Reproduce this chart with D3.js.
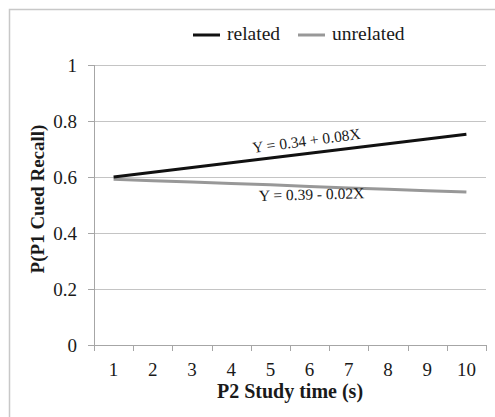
<!DOCTYPE html>
<html>
<head>
<meta charset="utf-8">
<script src="https://cdn.jsdelivr.net/npm/d3@7"></script>
<style>
  body { margin: 0; background: #fff; }
  text { font-family: "Liberation Serif", "Times New Roman", serif; fill: #1a1a1a; }
  .axis path, .axis line { stroke: #a6a6a6; }
  .axis text { font-size: 19px; font-family: "Liberation Serif", serif; fill: #1a1a1a; }
</style>
</head>
<body>
<div id="chart"></div>
<script>
// study times (categories)
var studyTimes = ["1", "2", "3", "4", "5", "6", "7", "8", "9", "10"];
var relatedVals = [0.600, 0.617, 0.634, 0.651, 0.668, 0.685, 0.702, 0.719, 0.736, 0.753];
var unrelatedVals = [0.592, 0.587, 0.582, 0.577, 0.572, 0.566, 0.561, 0.556, 0.551, 0.546];
var yTicks = [0, 0.2, 0.4, 0.6, 0.8, 1];
var seriesNames = ["related", "unrelated"];
var seriesColors = ["#111111", "#989898"];

var totalWidth = 495, totalHeight = 417;
var margin = {top: 65, right: 9, bottom: 72, left: 94},
    width = totalWidth - margin.left - margin.right,
    height = totalHeight - margin.top - margin.bottom;

var root = d3.select("#chart").append("svg")
    .attr("width", totalWidth)
    .attr("height", totalHeight);

// outer frame (only left/top visible)
root.append("rect")
    .attr("x", 9.5).attr("y", 9.5)
    .attr("width", 520).attr("height", 440)
    .attr("fill", "none")
    .attr("stroke", "#c8c8c8")
    .attr("stroke-width", 1.5);

var svg = root.append("g")
    .attr("transform", "translate(" + margin.left + "," + margin.top + ")");

var xScale = d3.scaleBand().domain(studyTimes).range([0, width]);
var yScale = d3.scaleLinear().domain([0, 1]).range([height, 0]);

// gridlines
svg.selectAll("line.grid")
    .data(yTicks.slice(1))
    .enter().append("line")
    .attr("class", "grid")
    .attr("x1", 0).attr("x2", width)
    .attr("y1", function(d) { return Math.round(yScale(d)) + 0.5; })
    .attr("y2", function(d) { return Math.round(yScale(d)) + 0.5; })
    .attr("stroke", "#c4c4c4")
    .attr("stroke-width", 1);

// y axis
var yAxis = d3.axisLeft(yScale).tickValues(yTicks).tickSize(6).tickPadding(11)
    .tickFormat(function(d) { return d; });
svg.append("g")
    .attr("class", "y axis")
    .call(yAxis)
    .call(function(g) { g.select(".domain").attr("d", "M0.5,0V" + height); });

// x axis with ticks between categories
var xAxis = d3.axisBottom(xScale).tickSize(0).tickPadding(18);
var xg = svg.append("g")
    .attr("class", "x axis")
    .attr("transform", "translate(0," + height + ")")
    .call(xAxis);
xg.select(".domain").attr("d", "M0,0.5H" + width);
xg.selectAll("line.sep")
    .data(d3.range(studyTimes.length + 1))
    .enter().append("line")
    .attr("class", "sep")
    .attr("x1", function(i) { return Math.round(i * xScale.step()) + 0.5; })
    .attr("x2", function(i) { return Math.round(i * xScale.step()) + 0.5; })
    .attr("y1", 0).attr("y2", 6)
    .attr("stroke", "#a6a6a6");

// lines
var line = d3.line()
    .x(function(d, i) { return xScale(studyTimes[i]) + xScale.bandwidth() / 2; })
    .y(function(d) { return yScale(d); });

[unrelatedVals, relatedVals].forEach(function(vals, k) {
  svg.append("path")
      .datum(vals)
      .attr("d", line)
      .attr("fill", "none")
      .attr("stroke", k === 0 ? seriesColors[1] : seriesColors[0])
      .attr("stroke-width", 3);
});

// regression equations
svg.append("text")
    .attr("transform", "translate(" + (253 - margin.left) + "," + (153 - margin.top) + ") rotate(-7.5)")
    .style("font-size", "15.5px")
    .text("Y = 0.34 + 0.08X");
svg.append("text")
    .attr("transform", "translate(" + (259 - margin.left) + "," + (201 - margin.top) + ") rotate(-1.5)")
    .style("font-size", "15.5px")
    .text("Y = 0.39 - 0.02X");

// axis titles
svg.append("text")
    .attr("transform", "translate(" + (44 - margin.left) + "," + (height / 2 - 6) + ") rotate(-90)")
    .attr("text-anchor", "middle")
    .style("font-size", "19px")
    .style("font-weight", "bold")
    .text("P(P1 Cued Recall)");
svg.append("text")
    .attr("x", width / 2)
    .attr("y", height + 53)
    .attr("text-anchor", "middle")
    .style("font-size", "20px")
    .style("font-weight", "bold")
    .text("P2 Study time (s)");

// legend
var legendX = [193, 298];
var legend = root.append("g").attr("class", "legend");
seriesNames.forEach(function(name, i) {
  legend.append("line")
      .attr("x1", legendX[i]).attr("x2", legendX[i] + 27)
      .attr("y1", 35).attr("y2", 35)
      .attr("stroke", seriesColors[i])
      .attr("stroke-width", 3);
  legend.append("text")
      .attr("x", legendX[i] + 34)
      .attr("y", 40)
      .style("font-size", "19.5px")
      .text(name);
});
</script>
</body>
</html>
